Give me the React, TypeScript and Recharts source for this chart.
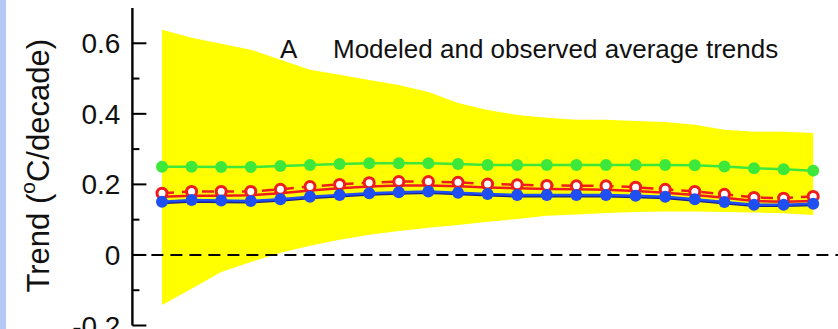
import React from 'react'
import {
  ComposedChart,
  Area,
  Line,
  XAxis,
  YAxis,
  ReferenceLine,
} from 'recharts'

// --- data ---

const steps = [0, 1, 2, 3, 4, 5, 6, 7, 8, 9, 10, 11, 12, 13, 14, 15, 16, 17, 18, 19, 20, 21, 22]

const bandLow = [
  -0.142, -0.096, -0.048, -0.02, 0.006, 0.026, 0.043, 0.057, 0.068, 0.077, 0.085, 0.094,
  0.102, 0.111, 0.115, 0.119, 0.122, 0.123, 0.123, 0.122, 0.12, 0.118, 0.113,
]
const bandHigh = [
  0.638, 0.616, 0.599, 0.582, 0.553, 0.525, 0.511, 0.496, 0.482, 0.462, 0.431, 0.411,
  0.397, 0.389, 0.383, 0.383, 0.38, 0.377, 0.369, 0.355, 0.349, 0.349, 0.346,
]
const greenTrend = [
  0.25, 0.25, 0.249, 0.249, 0.252, 0.255, 0.258, 0.26, 0.26, 0.26, 0.258, 0.255,
  0.255, 0.255, 0.255, 0.255, 0.255, 0.255, 0.254, 0.251, 0.246, 0.243, 0.239,
]
const redOpen = [
  0.175, 0.18, 0.18, 0.18, 0.186, 0.194, 0.2, 0.205, 0.208, 0.208, 0.206, 0.201,
  0.199, 0.197, 0.196, 0.196, 0.192, 0.186, 0.18, 0.172, 0.163, 0.161, 0.166,
]
const redSolid = [
  0.165, 0.168, 0.168, 0.169, 0.175, 0.183, 0.189, 0.194, 0.197, 0.197, 0.195, 0.191,
  0.189, 0.187, 0.186, 0.185, 0.181, 0.176, 0.17, 0.162, 0.153, 0.151, 0.153,
]
const blueTrend = [
  0.151, 0.156, 0.154, 0.153, 0.158, 0.165, 0.17, 0.175, 0.178, 0.18, 0.176, 0.173,
  0.17, 0.17, 0.17, 0.17, 0.168, 0.165, 0.158, 0.15, 0.142, 0.142, 0.145,
]
const navyTrend = [
  0.147, 0.151, 0.15, 0.149, 0.154, 0.161, 0.166, 0.171, 0.174, 0.176, 0.172, 0.169,
  0.166, 0.166, 0.166, 0.166, 0.164, 0.161, 0.154, 0.146, 0.139, 0.139, 0.141,
]

const yTicks = [-0.2, -0.1, 0, 0.1, 0.2, 0.3, 0.4, 0.5, 0.6]
const yLabels: Record<string, string> = { '-0.2': '-0.2', '0': '0', '0.2': '0.2', '0.4': '0.4', '0.6': '0.6' }

const data = steps.map((x, i) => ({
  x,
  band: [bandLow[i], bandHigh[i]],
  green: greenTrend[i],
  redOpen: redOpen[i],
  redSolid: redSolid[i],
  blue: blueTrend[i],
  navy: navyTrend[i],
}))

const FONT = "'Liberation Sans', Arial, Helvetica, sans-serif"
const MAJOR = 14
const MINOR = 7

// --- inward ticks ---

function BottomTick({ x, y, payload }: any) {
  const len = payload.value % 5 === 0 ? MAJOR : MINOR
  return <line x1={x} x2={x} y1={y} y2={y - len} stroke="#000" strokeWidth={2} />
}

function TopTick({ x, y, payload }: any) {
  const len = payload.value % 5 === 0 ? MAJOR : MINOR
  return <line x1={x} x2={x} y1={y} y2={y + len} stroke="#000" strokeWidth={2} />
}

function isMajorY(v: number) {
  return Math.round(v * 10) % 2 === 0
}

function LeftTick({ x, y, payload }: any) {
  const major = isMajorY(payload.value)
  const label = yLabels[String(payload.value)]
  return (
    <g>
      <line x1={x} x2={x + (major ? MAJOR : MINOR)} y1={y} y2={y} stroke="#000" strokeWidth={2} />
      {label && (
        <text x={x - 12} y={y + 10} textAnchor="end" fontSize={28} fontFamily={FONT} fill="#111">
          {label}
        </text>
      )}
    </g>
  )
}

function RightTick({ x, y, payload }: any) {
  const major = isMajorY(payload.value)
  return <line x1={x} x2={x - (major ? MAJOR : MINOR)} y1={y} y2={y} stroke="#000" strokeWidth={2} />
}

function YTitle({ viewBox }: any) {
  const cy = viewBox.y + viewBox.height / 2 - 1
  const cx = 49
  return (
    <text
      x={cx}
      y={cy}
      transform={`rotate(-90 ${cx} ${cy})`}
      textAnchor="middle"
      fontSize={31}
      fontFamily={FONT}
      fill="#111"
    >
      Trend (
      <tspan fontSize={21} dy={-14}>o</tspan>
      <tspan dy={14}>C/decade)</tspan>
    </text>
  )
}

function OpenDot({ cx, cy, index }: any) {
  return <circle key={index} cx={cx} cy={cy} r={5} fill="#fff" stroke="#ee1c1c" strokeWidth={3} />
}

export default function App() {
  return (
    <div
      style={{
        position: 'absolute',
        left: 0,
        top: 0,
        width: 838,
        height: 329,
        overflow: 'hidden',
        background: '#fff',
      }}
    >
      <div style={{ position: 'absolute', left: 0, top: 0, width: 6, height: 329, background: '#b6c8f4' }} />
      <ComposedChart
        width={900}
        height={380}
        data={data}
        margin={{ top: 8, right: 57.2, bottom: 54.5, left: 0 }}
      >
        <XAxis
          dataKey="x"
          type="number"
          domain={[-1, 23]}
          ticks={steps}
          interval={0}
          height={0}
          tickSize={0}
          tickMargin={0}
          tickLine={false}
          tick={<BottomTick />}
          axisLine={{ stroke: '#000', strokeWidth: 2.4 }}
        />
        <XAxis
          xAxisId="top"
          orientation="top"
          dataKey="x"
          type="number"
          domain={[-1, 23]}
          ticks={steps}
          interval={0}
          height={0}
          tickSize={0}
          tickMargin={0}
          tickLine={false}
          tick={<TopTick />}
          axisLine={{ stroke: '#000', strokeWidth: 2.4 }}
        />
        <YAxis
          type="number"
          domain={[-0.2, 0.7]}
          ticks={yTicks}
          interval={0}
          width={132.4}
          tickSize={0}
          tickMargin={0}
          tickLine={false}
          tick={<LeftTick />}
          axisLine={{ stroke: '#000', strokeWidth: 2.4 }}
          allowDataOverflow
          label={<YTitle />}
        />
        <YAxis
          yAxisId="right"
          orientation="right"
          type="number"
          domain={[-0.2, 0.7]}
          ticks={yTicks}
          interval={0}
          width={0}
          tickSize={0}
          tickMargin={0}
          tickLine={false}
          tick={<RightTick />}
          axisLine={{ stroke: '#000', strokeWidth: 2.4 }}
          allowDataOverflow
        />
        <Area
          dataKey="band"
          type="linear"
          stroke="none"
          fill="#ffff00"
          fillOpacity={1}
          isAnimationActive={false}
        />
        <ReferenceLine y={0} stroke="#000" strokeWidth={2} strokeDasharray="12 7" />
        <Line
          dataKey="green"
          type="linear"
          stroke="#3ee83a"
          strokeWidth={2.5}
          dot={{ r: 6, fill: '#3ee83a', stroke: 'none' }}
          isAnimationActive={false}
        />
        <Line
          dataKey="redOpen"
          type="linear"
          stroke="#ee1c1c"
          strokeWidth={2.5}
          strokeDasharray="12 8"
          dot={<OpenDot />}
          isAnimationActive={false}
        />
        <Line
          dataKey="redSolid"
          type="linear"
          stroke="#ee1c1c"
          strokeWidth={2.5}
          dot={false}
          isAnimationActive={false}
        />
        <Line
          dataKey="navy"
          type="linear"
          stroke="#1c2090"
          strokeWidth={2.2}
          dot={false}
          isAnimationActive={false}
        />
        <Line
          dataKey="blue"
          type="linear"
          stroke="#1f4ff0"
          strokeWidth={2.5}
          dot={{ r: 6, fill: '#1f4ff0', stroke: 'none' }}
          isAnimationActive={false}
        />
      </ComposedChart>
      <svg
        width={838}
        height={329}
        style={{ position: 'absolute', left: 0, top: 0, pointerEvents: 'none' }}
      >
        <text x={280} y={58} fontSize={26} fontFamily={FONT} fill="#111">A</text>
        <text x={333} y={58} fontSize={26} fontFamily={FONT} fill="#111">
          Modeled and observed average trends
        </text>
      </svg>
    </div>
  )
}
